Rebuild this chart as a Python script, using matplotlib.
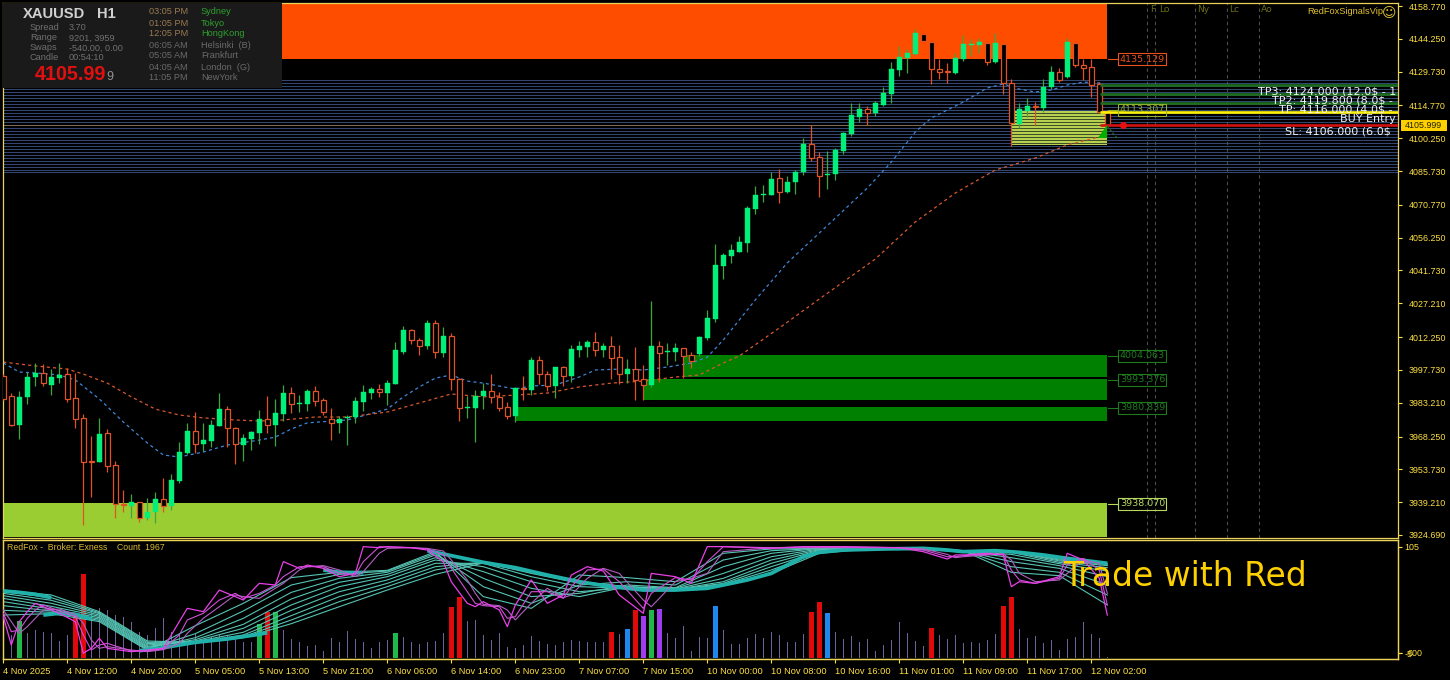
"""
XAUUSD H1 terminal screenshot: candles, zones, trade levels and the
RedFox oscillator / volume panel underneath.
"""

import matplotlib
matplotlib.use("Agg")
import matplotlib.pyplot as plt
import numpy as np
from matplotlib.patches import Rectangle, Polygon

# -----------------------------
# DATA
# -----------------------------

opens = [
    3995.0, 3986.2, 3973.4, 3985.8, 3994.6, 3996.4, 3991.1, 3994.1, 3995.9, 3985.3,
    3976.5, 3957.4, 3957.0, 3969.8, 3955.7, 3938.4, 3937.5, 3939.3, 3932.2, 3934.9,
    3940.6, 3937.5, 3948.6, 3961.0, 3970.7, 3964.9, 3966.3, 3972.9, 3980.4, 3972.0,
    3964.5, 3967.2, 3969.8, 3976.0, 3973.4, 3978.2, 3987.5, 3982.7, 3982.7, 3988.4,
    3984.4, 3976.0, 3974.3, 3976.5, 3976.9, 3983.5, 3987.5, 3989.3, 3987.5, 3991.5,
    4005.7, 4015.4, 4011.0, 4008.3, 4018.5, 4005.2, 4012.7, 3993.7, 3980.9, 3980.9,
    3986.2, 3988.4, 3985.8, 3981.3, 3977.3, 3989.7, 3988.9, 4002.1, 3995.9, 3990.6,
    3999.0, 3995.0, 4006.6, 4007.9, 4010.1, 4006.6, 4008.3, 4003.4, 3995.9, 3998.1,
    3993.7, 3991.1, 4008.3, 4005.7, 4005.7, 4007.4, 4004.3, 4004.8, 4011.9, 4020.3,
    4043.7, 4048.1, 4049.9, 4053.9, 4068.9, 4075.1, 4075.1, 4082.7, 4076.4, 4080.9,
    4085.3, 4097.7, 4092.0, 4084.0, 4084.4, 4094.6, 4102.1, 4109.7, 4113.2, 4111.4,
    4115.0, 4119.8, 4130.4, 4135.8, 4137.5, 4146.4, 4142.8, 4130.9, 4130.0, 4129.1,
    4135.3, 4141.5, 4141.5, 4142.4, 4134.0, 4141.9, 4124.7, 4106.6, 4112.3, 4114.5,
    4113.6, 4122.9, 4129.6, 4127.4, 4142.4, 4132.7, 4131.8, 4124.3, 4112.3,
]
highs = [
    3995.9, 3987.5, 3988.4, 3996.8, 4000.8, 4000.4, 3998.1, 4000.8, 3998.6, 3996.4,
    3978.2, 3968.5, 3976.5, 3971.6, 3957.4, 3944.6, 3942.8, 3939.3, 3941.1, 3943.7,
    3949.9, 3951.7, 3965.8, 3974.3, 3979.1, 3974.3, 3975.6, 3987.5, 3981.8, 3972.5,
    3969.4, 3970.7, 3980.0, 3986.2, 3984.9, 3991.1, 3990.2, 3986.6, 3989.3, 3990.6,
    3985.3, 3980.9, 3977.3, 3977.8, 3985.8, 3991.1, 3990.2, 3991.5, 3993.3, 4010.1,
    4017.2, 4015.8, 4011.9, 4019.8, 4019.8, 4016.7, 4014.1, 3994.1, 3986.2, 3988.9,
    3991.9, 3995.9, 3988.0, 3983.5, 3990.2, 3995.0, 4003.4, 4003.9, 3997.3, 3999.0,
    3999.5, 4008.8, 4010.5, 4011.0, 4014.5, 4009.6, 4012.7, 4008.8, 4002.6, 4007.9,
    3999.9, 4028.2, 4010.5, 4009.6, 4009.6, 4007.4, 4005.7, 4012.7, 4024.3, 4053.5,
    4049.5, 4053.5, 4057.0, 4070.3, 4079.1, 4079.6, 4085.3, 4086.6, 4083.6, 4086.2,
    4100.4, 4106.1, 4094.2, 4094.6, 4095.9, 4103.0, 4115.8, 4115.8, 4114.5, 4116.7,
    4122.9, 4134.0, 4141.1, 4139.7, 4148.6, 4146.4, 4142.8, 4135.3, 4133.6, 4138.0,
    4145.9, 4144.2, 4144.6, 4142.4, 4146.8, 4141.9, 4126.5, 4115.8, 4118.1, 4116.3,
    4126.5, 4132.2, 4131.3, 4144.6, 4142.4, 4135.3, 4135.3, 4125.1, 4112.3,
]
lows = [
    3984.4, 3972.9, 3967.2, 3982.7, 3990.6, 3990.6, 3986.6, 3991.9, 3983.5, 3972.0,
    3929.1, 3941.5, 3957.0, 3952.6, 3932.2, 3934.9, 3932.2, 3930.4, 3931.3, 3930.0,
    3934.9, 3935.7, 3947.7, 3960.5, 3961.0, 3961.9, 3963.6, 3972.9, 3963.6, 3956.1,
    3957.4, 3962.3, 3964.9, 3969.8, 3964.1, 3975.1, 3978.7, 3979.1, 3979.6, 3981.8,
    3977.8, 3966.7, 3969.8, 3964.5, 3974.3, 3979.6, 3984.9, 3985.8, 3982.2, 3991.5,
    4004.8, 4009.2, 4004.3, 4007.0, 4003.0, 4003.4, 3988.9, 3975.1, 3976.5, 3965.8,
    3980.4, 3983.1, 3979.6, 3976.0, 3974.7, 3984.4, 3986.6, 3991.5, 3988.4, 3985.3,
    3990.6, 3992.4, 4003.4, 4003.4, 4003.9, 4003.4, 3993.7, 3991.5, 3991.9, 3984.4,
    3984.4, 3990.2, 3992.4, 3999.9, 4001.7, 3994.1, 3998.6, 4003.9, 4011.0, 4018.9,
    4038.0, 4045.1, 4049.9, 4049.9, 4066.7, 4072.0, 4075.1, 4071.6, 4076.0, 4075.6,
    4084.0, 4090.2, 4074.3, 4077.8, 4081.8, 4093.3, 4101.3, 4107.4, 4106.1, 4110.1,
    4114.5, 4115.8, 4127.8, 4129.1, 4137.1, 4143.3, 4124.3, 4126.5, 4124.7, 4128.7,
    4134.4, 4136.7, 4138.0, 4132.7, 4133.6, 4119.8, 4096.8, 4104.8, 4109.7, 4106.1,
    4111.9, 4122.0, 4125.1, 4126.9, 4131.8, 4126.0, 4118.5, 4111.9, 4106.0,
]
closes = [
    3984.9, 3973.4, 3985.8, 3994.6, 3996.4, 3991.9, 3994.6, 3995.5, 3984.9, 3976.0,
    3957.0, 3957.0, 3969.4, 3955.2, 3938.4, 3938.0, 3939.3, 3932.2, 3934.9, 3940.6,
    3937.5, 3949.0, 3961.4, 3970.7, 3964.9, 3966.7, 3973.4, 3980.4, 3972.0, 3964.9,
    3967.6, 3970.3, 3976.0, 3973.4, 3978.7, 3987.5, 3982.7, 3983.1, 3988.4, 3984.0,
    3979.1, 3974.3, 3976.0, 3976.9, 3984.0, 3988.0, 3989.3, 3988.0, 3991.9, 4006.6,
    4015.4, 4011.0, 4008.3, 4018.5, 4005.7, 4012.7, 3993.7, 3980.9, 3981.3, 3986.2,
    3988.4, 3985.8, 3980.9, 3977.3, 3989.7, 3989.3, 4002.1, 3995.9, 3990.6, 3999.0,
    3995.0, 4007.0, 4008.3, 4010.1, 4006.6, 4008.3, 4003.0, 3995.9, 3998.1, 3993.3,
    3991.1, 4008.3, 4005.2, 4006.1, 4007.4, 4003.9, 4001.7, 4012.3, 4020.7, 4044.2,
    4048.6, 4050.8, 4054.3, 4069.4, 4075.1, 4075.6, 4082.2, 4076.4, 4080.9, 4085.3,
    4097.7, 4091.5, 4083.6, 4084.4, 4095.1, 4102.6, 4110.5, 4113.2, 4111.4, 4115.8,
    4120.3, 4130.9, 4136.2, 4138.0, 4146.8, 4143.3, 4130.9, 4129.6, 4129.6, 4135.8,
    4141.9, 4141.9, 4142.8, 4134.0, 4142.4, 4124.7, 4107.0, 4113.2, 4114.5, 4114.1,
    4122.9, 4129.6, 4126.0, 4142.8, 4132.7, 4131.3, 4123.8, 4111.9, 4106.0,
]

# moving averages, read at the bars listed
ma_blue_k = [0, 2, 4, 7, 9, 12, 15, 18, 20, 22, 25, 28, 32, 34, 36, 38, 43, 44, 48, 50, 52, 54, 56, 58, 60,
             62, 64, 66, 69, 72, 74, 77, 80, 83, 86, 88, 90, 94, 98, 102, 104, 108, 111, 114, 116, 120,
             123, 125, 127, 129, 131, 133, 135, 137, 138]
ma_blue = [4000.8, 3996.8, 3996.4, 3995.5, 3993.3, 3984.9, 3974.7, 3965.4, 3960.1, 3959.2, 3961.4, 3964.5,
           3966.7, 3968.0, 3971.6, 3974.3, 3975.6, 3976.5, 3980.4, 3985.8, 3990.2, 3994.1, 3995.5, 3992.8,
           3991.9, 3990.6, 3989.3, 3990.6, 3991.1, 3994.6, 3997.7, 3998.1, 3997.7, 3999.0, 4000.8, 4003.4,
           4011.0, 4028.7, 4045.1, 4058.3, 4064.9, 4078.2, 4089.7, 4103.0, 4109.2, 4116.3, 4122.5, 4124.3,
           4122.0, 4120.7, 4121.6, 4123.8, 4125.1, 4124.7, 4122.9]
ma_orange_k = [0, 4, 8, 10, 13, 16, 19, 22, 25, 29, 32, 35, 39, 43, 48, 52, 56, 60, 64, 68, 72, 76, 80, 84,
               87, 90, 92, 97, 102, 109, 114, 119, 124, 129, 133, 138]
ma_orange = [4001.2, 3999.5, 3998.1, 3995.9, 3991.9, 3985.8, 3980.4, 3977.8, 3976.5, 3975.6, 3975.1, 3975.6,
             3976.9, 3976.9, 3979.1, 3983.1, 3987.1, 3985.8, 3986.6, 3987.5, 3990.2, 3991.9, 3992.8, 3994.6,
             3995.5, 4000.8, 4003.9, 4016.3, 4029.1, 4046.8, 4063.2, 4076.0, 4086.2, 4091.5, 4097.3, 4101.7]

# price zones: first bar, last bar, low, high, colour
zone_start = [-0.1, 85.0, 80.1, 64.1, -0.1]
zone_low = [4135.3, 3994.6, 3984.4, 3975.3, 3923.6]
zone_high = [4161.0, 4004.3, 3993.7, 3981.3, 3938.8]
zone_colors = ["#FF4D00", "#008000", "#008000", "#008000", "#9ACD32"]
zone_end = 137.96

level_lines = [4126.0, 4124.7, 4123.4, 4122.0, 4120.7, 4119.4, 4118.1, 4116.7, 4115.4, 4114.1, 4112.8,
               4111.4, 4110.1, 4108.8, 4107.4, 4106.1, 4104.8, 4103.5, 4102.1, 4100.8, 4099.5, 4098.1,
               4096.8, 4095.5, 4094.2, 4092.8, 4091.5, 4090.2, 4088.9, 4087.5, 4086.2, 4085.1]

tp_levels = [4124.0, 4119.8, 4116.0]
entry_level = 4111.9
sl_level = 4106.0
bid_price = 4105.999

price_ticks = [4158.770, 4144.250, 4129.730, 4114.770, 4100.250, 4085.730, 4070.770, 4056.250, 4041.730,
               4027.210, 4012.250, 3997.730, 3983.210, 3968.250, 3953.730, 3939.210, 3924.690]

time_labels = ["4 Nov 2025", "4 Nov 12:00", "4 Nov 20:00", "5 Nov 05:00", "5 Nov 13:00", "5 Nov 21:00",
               "6 Nov 06:00", "6 Nov 14:00", "6 Nov 23:00", "7 Nov 07:00", "7 Nov 15:00", "10 Nov 00:00",
               "10 Nov 08:00", "10 Nov 16:00", "11 Nov 01:00", "11 Nov 09:00", "11 Nov 17:00", "12 Nov 02:00"]

# volume panel
volumes = [
    2520, 2760, 4440, 2960, 3360, 3080, 3000, 2040, 2760, 5040, 10080, 5760, 5960, 5760, 5160, 4960, 4280, 3160,
    2760, 3560, 4760, 3160, 2760, 1960, 2960, 1960, 2560, 2760, 2760, 2560, 1960, 1960, 4080, 5480, 5480, 3360,
    2280, 1880, 1480, 1560, 840, 2440, 1960, 3240, 2280, 1880, 1240, 1880, 2120, 3000, 2560, 1960, 1720, 1960,
    2040, 3000, 6120, 7320, 4440, 4560, 2760, 2160, 3000, 1360, 1160, 1560, 2640, 2040, 1720, 1560, 1960, 2160,
    2040, 1960, 1960, 1960, 3120, 2920, 3480, 5760, 5040, 5760, 5880, 3000, 2440, 3880, 840, 2520, 2440, 6240,
    3400, 1720, 1720, 2440, 2920, 2440, 3160, 2760, 1960, 1880, 2920, 5520, 6720, 5400, 3160, 2280, 2680, 1960,
    2280, 840, 1560, 2160, 4280, 3000, 2040, 1440, 3600, 2760, 2280, 2760, 1800, 1960, 1800, 2160, 2920, 6240,
    7320, 3480, 2440, 2640, 1800, 2160, 960, 2280, 2560, 4320, 2880, 2440, 160,
]
vol_green = [2, 32, 34, 49, 81]
vol_red = [9, 10, 33, 56, 57, 76, 79, 101, 102, 116, 125, 126]
vol_blue = [78, 89, 103]
vol_purple = [80, 82]

# oscillator fan, slow to fast, read every six bars
fan_k = [0, 6, 12, 18, 24, 30, 36, 42, 48, 54, 60, 66, 72, 78, 84, 90, 96, 102, 108, 114, 120, 126, 132, 138]
fan_1 = [60.2, 55.1, 37.9, 7.6, 6.2, 11.0, 25.5, 43.0, 60.2, 76.4, 88.1, 78.5, 68.8, 63.7, 59.9, 65.4, 77.4, 98.1, 102.6, 102.6, 99.8, 100.5, 92.2, 87.8]
fan_2 = [58.5, 52.3, 36.8, 6.2, 6.2, 12.1, 29.3, 48.2, 63.7, 80.9, 88.8, 78.5, 68.2, 63.7, 60.2, 66.1, 80.9, 99.1, 102.6, 102.9, 99.8, 100.5, 91.2, 86.7]
fan_3 = [56.8, 49.6, 35.8, 4.9, 6.6, 13.8, 33.8, 53.4, 67.1, 84.3, 88.8, 77.4, 67.1, 62.6, 60.6, 67.1, 84.3, 100.1, 102.9, 102.9, 99.8, 100.1, 90.2, 85.4]
fan_4 = [54.4, 46.5, 34.4, 3.5, 6.9, 16.6, 39.3, 58.5, 70.6, 87.8, 87.8, 74.0, 63.7, 62.0, 60.9, 68.8, 87.8, 101.2, 102.9, 103.2, 100.1, 99.1, 88.8, 83.3]
fan_5 = [51.6, 43.4, 33.1, 2.1, 7.6, 20.7, 44.8, 63.7, 74.0, 91.2, 84.3, 68.8, 58.5, 62.6, 61.3, 72.3, 91.2, 101.9, 103.2, 103.2, 100.1, 97.0, 87.4, 79.8]
fan_6 = [48.2, 40.6, 31.7, 1.1, 9.0, 24.8, 51.0, 68.2, 76.4, 93.6, 79.2, 62.0, 53.4, 63.7, 62.0, 77.4, 94.6, 102.6, 103.2, 103.6, 100.5, 93.6, 85.4, 74.0]
fan_7 = [44.1, 38.6, 30.3, 0.0, 11.0, 31.0, 57.8, 72.3, 78.5, 96.4, 72.3, 53.4, 56.8, 65.4, 62.6, 84.3, 98.1, 103.2, 103.6, 103.6, 100.5, 89.5, 82.6, 65.4]
fan_8 = [39.3, 37.2, 28.9, -1.0, 15.2, 38.6, 65.4, 76.4, 79.8, 98.1, 63.7, 46.5, 65.4, 68.8, 65.4, 91.2, 100.8, 103.2, 103.6, 103.9, 100.8, 84.3, 78.5, 55.1]
fan_9 = [34.4, 35.8, 27.6, -2.0, 23.4, 46.5, 73.0, 78.5, 80.5, 99.8, 53.4, 41.3, 75.7, 73.0, 68.8, 98.1, 102.6, 103.2, 103.9, 103.9, 100.8, 78.5, 75.0, 44.8]

# where the fan lines bunch into one thick band (nan breaks the band)
band_k = [0, 2, 4, 6, 6, 5, 7, 9, 11, 11, 17, 20, 24, 28, 32, 33, 33, 40, 42, 45, 45, 53, 56, 60, 64, 68, 72, 76, 80, 84,
          88, 90, 93, 96, 100, 102, 105, 110, 115, 118, 120, 124, 127, 130, 133, 138]
band_v = [59.2, 57.8, 55.8, 52.3, np.nan, 34.4, 36.2, 35.1, 30.3, np.nan, -2.4, 0.7, 6.2, 9.7, 14.5, 16.2, np.nan, 80.9, 78.5,
          78.1, np.nan, 100.8, 95.7, 88.8, 83.3, 75.7, 68.8, 63.7, 60.2, 60.2, 62.0, 65.4, 70.6, 77.4, 94.6, 99.1, 101.5,
          102.6, 103.2, 101.5, 99.8, 100.8, 99.1, 96.4, 92.9, 87.8]

# fast magenta lines
osc_k = [0, 1, 2, 3, 4, 5, 7, 9, 10, 11, 12, 13, 16, 18, 20, 22, 23, 25, 27, 29, 30, 32, 34, 35, 37, 38, 40, 42, 44, 45,
         47, 48, 51, 53, 55, 56, 58, 59, 60, 62, 63, 64, 66, 68, 70, 71, 73, 75, 77, 80, 81, 84, 86, 88, 90, 96, 100,
         105, 112, 115, 118, 119, 120, 123, 125, 126, 127, 129, 132, 133, 135, 137, 138]
magenta_1 = [32.7, 3.5, 27.6, 37.9, 46.5, 43.0, 36.2, 27.6, -5.0, 0.0, 10.4, 0.0, -3.4, -1.7, 0.0, 27.6, 41.3, 37.9, 60.2,
             53.4, 49.9, 67.1, 65.4, 89.5, 82.6, 86.0, 82.6, 74.0, 77.4, 105.0, 103.9, 105.0, 103.9, 101.5, 89.5, 68.8,
             46.5, 43.0, 48.2, 39.6, 22.4, 44.8, 70.6, 46.5, 55.1, 75.7, 84.3, 79.8, 55.1, 36.2, 77.4, 74.0, 67.1, 105.0,
             105.0, 103.2, 105.0, 105.0, 103.9, 99.8, 92.2, 96.4, 96.4, 98.1, 96.4, 63.7, 68.8, 67.1, 74.0, 98.1, 91.2,
             72.3, 34.4]
magenta_2 = [36.2, 17.2, 19.0, 31.0, 39.6, 44.8, 38.6, 32.7, 13.8, -1.7, 3.5, 5.2, -2.7, -2.7, -0.6, 13.8, 29.3, 36.2, 49.9,
             56.8, 51.6, 56.8, 65.4, 74.0, 84.3, 84.3, 84.3, 77.4, 75.7, 89.5, 105.0, 104.6, 103.9, 102.6, 96.4, 82.6,
             58.5, 46.5, 44.1, 43.0, 31.0, 32.7, 58.5, 58.5, 51.6, 63.7, 80.9, 81.9, 68.8, 41.3, 56.8, 73.0, 70.6, 89.5,
             105.0, 103.9, 104.6, 104.6, 103.9, 101.5, 94.6, 94.6, 95.7, 97.0, 97.0, 80.9, 70.6, 67.1, 72.3, 86.0, 92.9,
             80.9, 44.8]
magenta_3 = [39.6, 27.6, 15.5, 22.4, 31.0, 39.6, 40.6, 35.1, 25.8, 8.6, 0.0, 1.8, -1.7, -3.4, -1.3, 5.2, 15.5, 31.0, 43.0,
             55.1, 53.4, 51.6, 62.0, 67.1, 80.9, 84.3, 85.4, 80.9, 74.0, 79.2, 98.1, 103.2, 103.9, 103.2, 100.5, 91.2,
             70.6, 56.8, 45.4, 44.1, 39.6, 29.3, 46.5, 62.0, 52.3, 55.1, 72.3, 82.6, 77.4, 49.9, 43.0, 68.8, 72.3, 77.4,
             99.8, 103.9, 103.9, 103.9, 103.9, 102.6, 97.0, 93.6, 94.6, 96.4, 97.7, 91.2, 77.4, 68.8, 70.6, 77.4, 91.2,
             87.8, 56.8]

session_px = [1147, 1155, 1195, 1227, 1259]
session_names = ["F", "Lo", "Ny", "Lc", "Ao"]
session_text_px = [1150, 1159, 1197, 1229, 1261]

# -----------------------------
# FIGURE AND AXES
# -----------------------------

W, H = 1450, 680
BG = "#000000"
FRAME = "#EBD35A"
AXIS_TEXT = "#FFE040"
plt.rcParams["font.family"] = ["Liberation Sans", "DejaVu Sans"]


def k_of(px):
    # screen x -> bar number
    return (px - 3.3) / 8


def price_of(py):
    # screen y -> price
    return 4161.425 - 0.4425 * py


def make_axes(left, top, right, bottom):
    return fig.add_axes([left / W, 1 - bottom / H, (right - left) / W, (bottom - top) / H])


fig = plt.figure(figsize=(W / 100, H / 100), dpi=100, facecolor=BG)
ax = make_axes(2.5, 2.5, 1398, 538)
ax_vol = make_axes(2.5, 539.5, 1398, 659)
ax_osc = ax_vol.twinx()
overlay = fig.add_axes([0, 0, 1, 1])
overlay.set_xlim(0, W)
overlay.set_ylim(H, 0)
overlay.axis("off")
overlay.patch.set_alpha(0)

for a in (ax, ax_vol, ax_osc):
    a.set_facecolor(BG)
    a.set_xlim(k_of(2.5), k_of(1398))
    for s in a.spines.values():
        s.set_color(FRAME)
        s.set_linewidth(0.9)
ax_osc.patch.set_alpha(0)

ax.set_ylim(price_of(538), price_of(2.5))
ax_vol.set_ylim(-120, 14220)
ax_osc.set_ylim(-10.97, 112.36)

# -----------------------------
# PRICE PANEL
# -----------------------------

bars = np.arange(len(closes))
o = np.array(opens)
c = np.array(closes)
bull = c >= o

for start, lo, hi, col in zip(zone_start, zone_low, zone_high, zone_colors):
    ax.add_patch(Rectangle((start, lo), zone_end - start, hi - lo, fc=col, ec="none", zorder=1))

ax.hlines(level_lines, k_of(2.5), k_of(1398), color="#314670", lw=0.72, antialiased=False, zorder=0.5)
ax.hlines(bid_price, k_of(2.5), k_of(1100), color="#7A6A55", lw=0.72, antialiased=False, zorder=0.6)

# yellow-green box with the level lines showing through
box_left, box_low, box_high = k_of(1011.5), price_of(145), price_of(110.7)
ax.add_patch(Rectangle((box_left, box_low), zone_end - box_left, box_high - box_low, fc="#B8D050", ec="none", zorder=1.2))
box_lines = [v for v in level_lines if box_low < v < box_high]
ax.hlines(box_lines, box_left, zone_end, color="#3E5028", lw=0.72, antialiased=False, zorder=1.3)

for x in session_px:
    ax.axvline(k_of(x), color="#4E4E4E", lw=0.8, dashes=(3, 3), zorder=1.4)

ax.plot(ma_blue_k, ma_blue, color="#3F86D8", lw=0.9, dashes=(2.5, 2.5), zorder=2)
ax.plot(ma_orange_k, ma_orange, color="#D8582C", lw=0.9, dashes=(2.5, 2.5), zorder=2)

# candles
GREEN_BODY = "#00F07A"
GREEN_WICK = "#3FA63F"
RED_LINE = "#DF5326"
ax.vlines(bars[bull], np.array(lows)[bull], np.array(highs)[bull], color=GREEN_WICK, lw=0.9, zorder=3)
ax.vlines(bars[~bull], np.array(lows)[~bull], np.array(highs)[~bull], color=RED_LINE, lw=0.9, zorder=3)
ax.bar(bars[bull], (c - o)[bull], bottom=o[bull], width=5.5 / 8, color=GREEN_BODY, ec=GREEN_BODY, lw=0.3, zorder=4)
ax.bar(bars[~bull], (o - c)[~bull], bottom=c[~bull], width=5.5 / 8, color=BG, ec=RED_LINE, lw=0.9, zorder=4)

# trade levels
left_k = k_of(1100)
right_k = k_of(1398)
ax.hlines(tp_levels, left_k, right_k, color="#1B6E1B", lw=1.9, zorder=5)
ax.hlines(entry_level, left_k, right_k, color="#FFF200", lw=1.9, zorder=5)
ax.hlines(sl_level, left_k, right_k, color="#D41010", lw=1.9, zorder=5)
ax.scatter([k_of(1123)], [sl_level], s=16, color="#E81010", zorder=6)

trade_text = [
    ("TP3: 4124.000 (12.0$ - 1", 1258, 91),
    ("TP2: 4119.800 (8.0$ - ", 1272, 100.7),
    ("TP: 4116.000 (4.0$ - ", 1279, 109.5),
    ("BUY Entry", 1340, 119),
    ("SL: 4106.000 (6.0$", 1285, 132),
]
for label, tx, ty in trade_text:
    ax.text(tx, ty, label, transform=overlay.transData, color="#F2F2F2", fontsize=8.0, va="center", ha="left",
            family="DejaVu Sans", clip_on=True, zorder=7)

ax.set_xticks([])
ax.yaxis.tick_right()
ax.set_yticks(price_ticks)
ax.set_yticklabels(["%.3f" % t for t in price_ticks])
ax.tick_params(axis="y", colors=AXIS_TEXT, labelsize=6.4, length=3, width=0.8, pad=4.5)

# -----------------------------
# OSCILLATOR + VOLUME PANEL
# -----------------------------

vol_colors = ["#6C6496"] * len(volumes)
vol_widths = [1 / 8] * len(volumes)
for idx_list, col in [(vol_green, "#1FB84A"), (vol_red, "#E00A0A"), (vol_blue, "#1E88F0"), (vol_purple, "#A03CF0")]:
    for i in idx_list:
        vol_colors[i] = col
        vol_widths[i] = 5 / 8
ax_vol.bar(bars, volumes, width=vol_widths, color=vol_colors, zorder=2)

for line in (fan_9, fan_8, fan_7, fan_6, fan_5, fan_4, fan_3, fan_2, fan_1):
    ax_osc.plot(fan_k, line, color="#55C4B4", lw=0.8, zorder=2)
ax_osc.plot(band_k, band_v, color="#20B2AA", lw=2.7, zorder=3, solid_capstyle="butt")
ax_osc.plot(osc_k, magenta_3, color="#B060C0", lw=0.8, zorder=3)
ax_osc.plot(osc_k, magenta_2, color="#D050D8", lw=0.8, zorder=3)
ax_osc.plot(osc_k, magenta_1, color="#E840E8", lw=0.9, zorder=3)

ax_vol.set_xticks(np.arange(len(time_labels)) * 8)
ax_vol.set_xticklabels(time_labels, ha="left")
ax_vol.tick_params(axis="x", colors=AXIS_TEXT, labelsize=6.7, length=3, width=0.8, pad=3)
ax_vol.yaxis.tick_right()
ax_vol.set_yticks([600])
ax_vol.tick_params(axis="y", colors=AXIS_TEXT, labelsize=6.4, length=3, width=0.8, pad=3.5)
ax_osc.set_yticks([105, -5])
ax_osc.set_yticklabels(["105", "-5"])
ax_osc.tick_params(axis="y", colors=AXIS_TEXT, labelsize=6.4, length=3, width=0.8, pad=1.5)

# -----------------------------
# OVERLAY: INFO BOX AND TEXT
# -----------------------------

overlay.add_patch(Rectangle((3, 3), 279, 85, fc="#1A1A1A", ec="none", zorder=1))


def put(x, y, s, col, size, **kw):
    overlay.text(x, y, s, color=col, fontsize=size, va="center", ha=kw.pop("ha", "left"), zorder=3, **kw)


put(23, 14, "XAUUSD", "#D0D0D0", 10.6, fontweight="bold")
put(97, 14, "H1", "#D0D0D0", 10.6, fontweight="bold")

for y, name, val in zip([28, 38, 48, 58],
                        ["Spread", "Range", "Swaps", "Candle"],
                        ["3.70", "9201, 3959", "-540.00, 0.00", "00:54:10"]):
    put(30, y, name, "#707070", 6.6)
    put(69, y, val, "#707070", 6.6)

put(35, 74.5, "4105.99", "#E01010", 14.2, fontweight="bold")
put(106, 77, "9", "#909090", 9)

clock_y = [12, 23, 34, 45, 56, 67, 78]
clock_times = ["03:05 PM", "01:05 PM", "12:05 PM", "06:05 AM", "05:05 AM", "04:05 AM", "11:05 PM"]
clock_names = ["Sydney", "Tokyo", "HongKong", "Helsinki  (B)", "Frankfurt", "London  (G)", "NewYork"]
for i, (y, t, n) in enumerate(zip(clock_y, clock_times, clock_names)):
    put(149, y, t, "#9A7A50" if i < 3 else "#6A6A6A", 6.6)
    put(201, y, n, "#2EA02E" if i < 3 else "#6A6A6A", 6.6)

# right side boxes for the zone prices
zone_labels = [("4135.129", 59, "#E8501E"), ("4113.307", 110, "#8FB030"), ("4004.063", 356, "#1E7A1E"),
               ("3993.376", 380, "#1E7A1E"), ("3980.839", 408, "#1E7A1E"), ("3938.070", 504, "#B8D860")]
for s, y, col in zone_labels:
    overlay.add_patch(Rectangle((1118, y - 6), 48, 12, fc="none", ec=col, lw=0.8, zorder=2))
    overlay.plot([1108, 1118], [y, y], color=col, lw=0.8, zorder=2)
    put(1120, y, s, col, 6.8, family="DejaVu Sans")

for name, x in zip(session_names, session_text_px):
    put(x, 9.5, name, "#6E6E14", 6.6, family="DejaVu Sans")

put(1307, 12, "RedFoxSignalsVip", "#E0C030", 6.7)
put(1382, 12.5, "\u263A", "#E0C030", 10, family="DejaVu Sans")

# arrow mark at the last bar
overlay.add_patch(Polygon([(1098, 138), (1107, 125), (1107, 138)], fc="#00B000", ec="none", zorder=2))
overlay.plot([1107, 1117], [126, 138], color="#1F6F1F", lw=0.9, dashes=(2, 1.5), zorder=2)

# current price tag
overlay.add_patch(Rectangle((1401, 120), 46, 11, fc="#FFD000", ec="none", zorder=2))
put(1405, 125.5, "4105.999", "#222200", 6.4)

# oscillator captions
put(7, 548, "RedFox -  Broker: Exness    Count  1967", "#D8B830", 6.3)
put(1063, 577, "Trade with Red", "#FFD000", 23.7, family="DejaVu Sans")

fig.savefig("out.png", dpi=100, facecolor=BG)
